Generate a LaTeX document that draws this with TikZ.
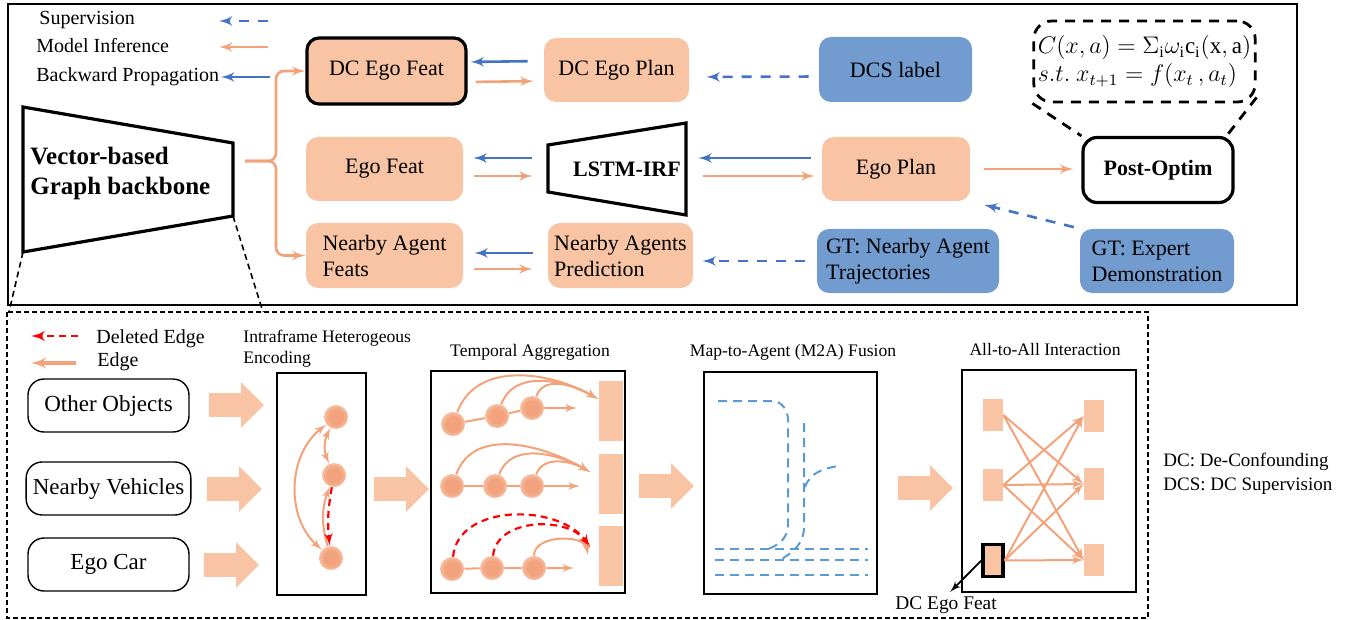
\documentclass[tikz,border=0pt]{standalone}
\usepackage{fontspec}
\setmainfont{Liberation Serif}
\usepackage{amsmath}
\usetikzlibrary{arrows,shapes.arrows}

\definecolor{boxor}{HTML}{F8C4A4}
\definecolor{boxbl}{HTML}{729CCF}
\definecolor{lineor}{HTML}{F4A27A}
\definecolor{linebl}{HTML}{4472C4}
\definecolor{mapbl}{HTML}{5B9BD5}
\definecolor{gcore}{HTML}{F2A27C}
\definecolor{gmid}{HTML}{F9CDB5}
\pgfdeclareradialshading{glow}{\pgfpoint{0bp}{0bp}}{color(0bp)=(gcore); color(15bp)=(gcore); color(30bp)=(gmid); color(50bp)=(white)}

\begin{document}
\begin{tikzpicture}[x=0.5pt,y=-0.5pt]
\tikzset{box/.style = {rounded corners=6pt,fill=boxor,minimum height=32.5pt,inner sep=2pt,font=\fontsize{11}{13}\selectfont,align=center}}
\tikzset{gtbox/.style = {box,fill=boxbl}}
\tikzset{thick box/.style = {draw=black,line width=1.6pt}}
\tikzset{back/.style = {->,> = latex',draw=linebl,line width=1.3pt}}
\tikzset{infer/.style = {->,> = latex',draw=lineor,line width=1.3pt}}
\tikzset{sup/.style = {back,dash pattern=on 5pt off 4.5pt}}
\tikzset{legend/.style = {anchor=west,inner sep=0pt,font=\fontsize{10}{12}\selectfont}}
\tikzset{panel/.style = {draw,line width=0.8pt}}
\tikzset{title/.style = {inner sep=0pt,font=\fontsize{8.8}{10.5}\selectfont}}
\tikzset{input/.style = {draw,rounded corners=8pt,line width=0.7pt,minimum width=80.5pt,minimum height=26.5pt,font=\fontsize{11.5}{13}\selectfont}}
\tikzset{blockarrow/.style = {single arrow,fill=boxor,minimum height=27.5pt,text height=11.5pt,text depth=0pt,text width=0pt,single arrow head extend=5.5pt,inner sep=0pt}}
\tikzset{gnode/.style = {circle,shading=glow,inner sep=0pt,minimum size=12pt}}
\tikzset{edge/.style = {->,> = latex',draw=lineor,line width=1pt}}
\tikzset{deledge/.style = {->,> = latex',draw=red,line width=1.1pt,dash pattern=on 3.5pt off 2.5pt}}
\tikzset{bar/.style = {fill=boxor,minimum width=12pt,minimum height=30pt,inner sep=0pt}}
\tikzset{cell/.style = {fill=boxor,minimum width=10pt,minimum height=16pt,inner sep=0pt}}
\tikzset{lane/.style = {draw=mapbl,line width=1pt,dash pattern=on 4.5pt off 3pt}}

\useasboundingbox (0,0) rectangle (1353,620);

% frames

\draw[line width=1pt] (8,4) rectangle (1297,305);
\draw[line width=1pt,dash pattern=on 2.5pt off 1.5pt] (7,312) rectangle (1148,618);

% legend

\node[legend] (lsup) at (39,20) {Supervision};
\node[legend] (linf) at (36,46) {Model Inference};
\node[legend] (lbp) at (36,77) {Backward Propagation};
\coordinate (sup1) at (268,21);
\coordinate (sup2) at (219,21);
\coordinate (inf1) at (268,47);
\coordinate (inf2) at (219,47);
\coordinate (bp1) at (270,77);
\coordinate (bp2) at (221,77);
\draw[sup] (sup1) to (sup2);
\draw[infer] (inf1) to (inf2);
\draw[back] (bp1) to (bp2);

% backbone

\draw[line width=1.6pt] (23,107) -- (233,143) -- (233,216) -- (23,252) -- cycle;
\node[anchor=west,align=left,inner sep=0pt,font=\fontsize{12.5}{15}\selectfont\bfseries] (bb) at (30,173) {Vector-based\\Graph backbone};
\draw[line width=0.8pt,dash pattern=on 3pt off 2pt] (23,252) -- (9,312);
\draw[line width=0.8pt,dash pattern=on 3pt off 2pt] (233,216) -- (263,312);

% top blocks

\node[box,thick box,minimum width=79.5pt,minimum height=33pt] (dcf) at (386.5,71) {DC Ego Feat};
\node[box,minimum width=72.5pt,minimum height=32pt] (dcp) at (616.5,70) {DC Ego Plan};
\node[gtbox,minimum width=76.5pt] (dcs) at (895.5,69.5) {DCS label};
\node[box,minimum width=78.5pt,minimum height=32pt] (ef) at (384.5,169) {Ego Feat};
\node[minimum width=69pt,minimum height=46pt,inner sep=0pt,font=\fontsize{11}{13}\selectfont\bfseries] (lstm) at (617,169) {\hspace{10pt}LSTM-IRF};
\draw[line width=1.6pt] (548,145) -- (686,123) -- (686,215) -- (548,192) -- cycle;
\node[box,minimum width=74pt,minimum height=32pt] (ep) at (896,169) {Ego Plan};
\node[box,fill=white,thick box,rounded corners=7pt,minimum width=75pt,minimum height=32.5pt,font=\fontsize{11}{13}\selectfont\bfseries] (po) at (1158,170) {Post-Optim};
\node[box,align=left,minimum width=78.5pt] (naf) at (384.5,255.5) {Nearby Agent\\Feats};
\node[box,align=left,minimum width=72.5pt] (nap) at (620.5,255.5) {Nearby Agents\\Prediction};
\node[gtbox,align=left,minimum width=91pt,minimum height=32pt] (gtn) at (908,261) {GT: Nearby Agent\\Trajectories};
\node[gtbox,align=left,minimum width=77pt,minimum height=32pt] (gte) at (1157,261) {GT: Expert\\Demonstration};
\node[draw,rounded corners=9pt,line width=1.4pt,dash pattern=on 5pt off 4pt,minimum width=107.5pt,minimum height=40.5pt,inner sep=2pt,align=left,font=\fontsize{11.5}{14}\selectfont] (fml) at (1144.5,61.5) {$C(x,a)=\Sigma_{\mathrm{i}}\omega_{\mathrm{i}}\mathrm{c}_{\mathrm{i}}(\mathrm{x},\mathrm{a})$\\$s.t.\ x_{t+1}=f(x_t\,,a_t)$};

% top edges

\coordinate (brc) at (245,161);
\draw[infer,rounded corners=4pt] (brc) -- ++(31,0) |- (dcf.west);
\draw[infer,rounded corners=4pt] (brc) -- ++(31,0) |- (naf.west);
\draw[back,shorten <=8pt,shorten >=1.5pt] ([yshift=4.5pt]dcp.west) to ([yshift=4.5pt]dcf.east);
\draw[infer,shorten <=4pt,shorten >=5pt] ([yshift=-5.5pt]dcf.east) to ([yshift=-5.5pt]dcp.west);
\draw[sup,shorten <=5pt,shorten >=8.5pt] ([yshift=-3.5pt]dcs.west) to ([yshift=-3.5pt]dcp.east);
\draw[back,shorten <=8pt,shorten >=5pt] ([yshift=5.5pt]lstm.west) to ([yshift=5.5pt]ef.east);
\draw[infer,shorten <=5.5pt,shorten >=7.5pt] ([yshift=-3.5pt]ef.east) to ([yshift=-3.5pt]lstm.west);
\draw[back,shorten <=5.5pt,shorten >=6pt] ([yshift=5.5pt]ep.west) to ([yshift=5.5pt]lstm.east);
\draw[infer,shorten <=8.5pt,shorten >=3.5pt] ([yshift=-3.5pt]lstm.east) to ([yshift=-3.5pt]ep.west);
\draw[infer,shorten <=7pt,shorten >=4pt] (ep.east) to (ep.east -| po.west);
\draw[sup,shorten <=3pt,shorten >=7pt] (gte.north west) to (ep.south east);
\draw[back,shorten <=7.5pt,shorten >=5.5pt] ([yshift=1.25pt]nap.west) to ([yshift=1.25pt]naf.east);
\draw[infer,shorten <=5.5pt,shorten >=7.5pt] ([yshift=-6.75pt]naf.east) to ([yshift=-6.75pt]nap.west);
\draw[sup,shorten <=6pt,shorten >=4.5pt] (gtn.west) to (gtn.west -| nap.east);
\draw[line width=1.4pt,dash pattern=on 5pt off 4pt] (fml.south west) to (po.north west);
\draw[line width=1.4pt,dash pattern=on 5pt off 4pt] ([yshift=3pt]fml.south east) to ([xshift=-4pt]po.north east);

% bottom legend

\coordinate (del1) at (78,336);
\coordinate (del2) at (31,336);
\coordinate (ed1) at (76,363);
\coordinate (ed2) at (31,363);
\draw[deledge,line width=1.4pt] (del1) to (del2);
\draw[edge,line width=1.6pt] (ed1) to (ed2);
\node[legend] (ldel) at (96,339) {Deleted Edge};
\node[legend] (led) at (97,362) {Edge};

% inputs

\node[input] (oo) at (108.5,405.5) {Other Objects};
\node[input] (nv) at (108.5,488.5) {Nearby Vehicles};
\node[input] (ec) at (108.5,564.5) {Ego Car};
\node[blockarrow] (ba1) at (230.5,405) {};
\node[blockarrow] (ba2) at (228.5,489) {};
\node[blockarrow] (ba3) at (225.5,565) {};

% intraframe encoding

\node[title,anchor=north west,align=left] (tin) at (243,330) {Intraframe Heterogeous\\Encoding};
\draw[panel] (277,373) rectangle (366,595);
\node[gnode] (i1) at (336,417) {};
\node[gnode] (i2) at (334,475) {};
\node[gnode] (i3) at (331,558) {};
\draw[edge,<->] (i3) to[bend left=50] (i1);
\draw[edge,<->] (i1) to[bend right=25] (i2);
\draw[edge] (i3) to[bend left=18] (i2);
\draw[deledge] (i2) to[bend right=8] (i3);
\node[blockarrow] (ba4) at (395.5,489) {};

% temporal aggregation

\node[title] (tta) at (530,352) {Temporal Aggregation};
\draw[panel] (431,371) rectangle (625,593);
\node[bar] (b1) at (611,411) {};
\node[bar] (b2) at (611,483.5) {};
\node[bar] (b3) at (611,556) {};
\node[gnode] (t11) at (453,424) {};
\node[gnode] (t12) at (497,416) {};
\node[gnode] (t13) at (532,408) {};
\node[gnode] (t21) at (452,486) {};
\node[gnode] (t22) at (495,486) {};
\node[gnode] (t23) at (532,486) {};
\node[gnode] (t31) at (452,569) {};
\node[gnode] (t32) at (492,568) {};
\node[gnode] (t33) at (534,568) {};
\coordinate (e1) at (598,399);
\coordinate (e2) at (590,472);
\coordinate (e3) at (590,547);
\coordinate (e3b) at (588,555);
\coordinate (f1) at (577,408);
\coordinate (f2) at (580,486);
\coordinate (f3) at (574,568);
\draw[edge] (t11) -- (t12) -- (t13) -- (f1);
\draw[edge] (t21) -- (t22) -- (t23) -- (f2);
\draw[edge] (t31) -- (t32) -- (t33) -- (f3);
\draw[edge] (t11) to[out=70,in=150] (e1);
\draw[edge] (t12) to[out=70,in=150] (e1);
\draw[edge] (t13) to[out=70,in=150] (e1);
\draw[edge] (t21) to[out=70,in=150] (e2);
\draw[edge] (t22) to[out=70,in=150] (e2);
\draw[edge] (t23) to[out=70,in=150] (e2);
\draw[deledge] (t31) to[out=85,in=125] (e3);
\draw[deledge] (t32) to[out=85,in=125] (e3);
\draw[edge] (t33) to[out=90,in=100] (e3b);
\node[blockarrow] (ba5) at (660.5,486) {};

% map-to-agent fusion

\node[title] (tma) at (793,352) {Map-to-Agent (M2A) Fusion};
\draw[panel] (704,372) rectangle (877,594);
\draw[lane] (718,401) -- (772,401) to[out=0,in=90] (788,420) -- (788,525) to[out=270,in=20] (768,549);
\draw[lane] (804,423) -- (804,527) to[out=270,in=30] (780,560);
\draw[lane] (805,487) to[out=70,in=190] (838,466);
\draw[lane] (715,549) -- (868,549);
\draw[lane] (715,560) -- (868,560);
\draw[lane] (715,575) -- (868,575);
\node[blockarrow] (ba6) at (919.5,488) {};

% all-to-all interaction

\node[title] (taa) at (1045,349) {All-to-All Interaction};
\draw[panel] (962,370) rectangle (1136,592);
\node[cell] (l1) at (993,415) {};
\node[cell] (l2) at (993,485) {};
\node[cell,draw=black,line width=1.6pt] (l3) at (993,560.5) {};
\node[cell] (r1) at (1094,416) {};
\node[cell] (r2) at (1094,484) {};
\node[cell] (r3) at (1094,560) {};
\foreach \a/\b in {l1/r2,l1/r3,l2/r1,l2/r2,l2/r3,l3/r1,l3/r2,l3/r3}
  \draw[edge] (\a.east) to (\b.west);
\node[inner sep=0pt,font=\fontsize{9.7}{11}\selectfont] (dclab) at (946,605) {DC Ego Feat};
\draw[->,> = latex',line width=0.9pt,shorten >=3pt] (l3.west) to (dclab.north);

% notes

\node[legend,font=\fontsize{9.5}{11}\selectfont] (n1) at (1163,462) {DC: De-Confounding};
\node[legend,font=\fontsize{9.5}{11}\selectfont] (n2) at (1163,486) {DCS: DC Supervision};
\end{tikzpicture}
\end{document}
